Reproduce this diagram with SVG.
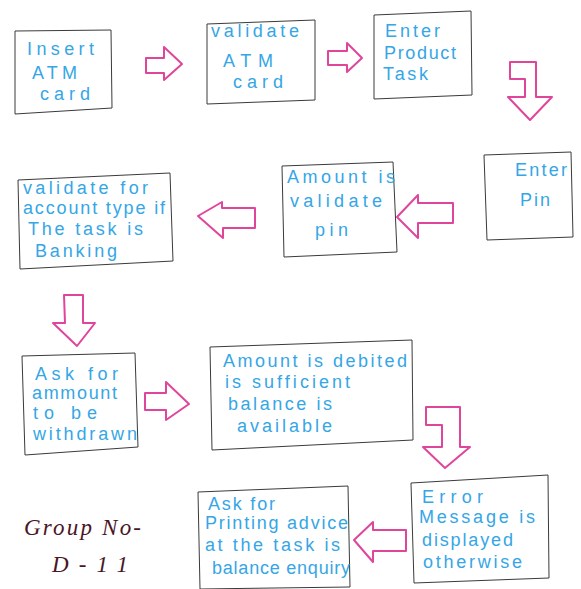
<svg xmlns="http://www.w3.org/2000/svg" width="581" height="589" viewBox="0 0 581 589">
<style>
.box{fill:none;stroke:#3a3a3a;stroke-width:1;stroke-linejoin:round}
.arr{fill:none;stroke:#e0459c;stroke-width:2;stroke-linejoin:round}
.t{font-family:"Liberation Sans","DejaVu Sans",sans-serif;font-size:18px;fill:#35a6e6}
.g{font-family:"Liberation Serif","DejaVu Serif",serif;font-style:italic;font-size:23px;fill:#4a1626}
</style>
<rect width="581" height="589" fill="#ffffff"/>
<g id="connectors">
<polygon class="arr" points="146,58 164,58 164,47 182,64 164,80 164,73 146,73"/>
<polygon class="arr" points="328,51 347,51 347,43 362,58 347,72 347,65 328,65"/>
<polygon class="arr" points="510,62 536,62 536,97 552,97 530,120 508,97 525,97 525,79 510,79"/>
<polygon class="arr" points="397,217 418,195 418,203 453,203 453,223 418,223 418,238"/>
<polygon class="arr" points="198,216 222,202 222,208 255,208 255,228 223,228 223,238"/>
<polygon class="arr" points="64,295 83,295 83,323 95,323 77,346 53,323 65,323"/>
<polygon class="arr" points="145,393 166,393 166,382 189,404 166,420 166,410 145,410"/>
<polygon class="arr" points="426,407 460,407 460,447 470,447 445,468 423,447 442,447 442,425 426,425"/>
<polygon class="arr" points="354,540 373,522 373,530 406,530 406,551 373,551 373,562"/>
</g>
<g id="n1">
<polygon class="box" points="15,31 111,30 112,108 15,114"/>
<text class="t" x="27" y="55" textLength="67" lengthAdjust="spacing" font-size="20" fill="#2d8fd8">Insert</text>
<text class="t" x="32" y="79" textLength="45" lengthAdjust="spacing">ATM</text>
<text class="t" x="40" y="100" textLength="50" lengthAdjust="spacing">card</text>
</g>
<g id="n2">
<polygon class="box" points="207,24 315,20 315,100 207,104"/>
<text class="t" x="211" y="37" textLength="88" lengthAdjust="spacing">validate</text>
<text class="t" x="223" y="67" textLength="50" lengthAdjust="spacing">ATM</text>
<text class="t" x="233" y="88" textLength="50" lengthAdjust="spacing">card</text>
</g>
<g id="n3">
<polygon class="box" points="374,15 471,11 472,95 374,99"/>
<text class="t" x="385" y="37" textLength="55" lengthAdjust="spacing">Enter</text>
<text class="t" x="384" y="59" textLength="72" lengthAdjust="spacing">Product</text>
<text class="t" x="383" y="80" textLength="45" lengthAdjust="spacing">Task</text>
</g>
<g id="n4">
<polygon class="box" points="484,155 571,152 573,237 487,240"/>
<text class="t" x="515" y="176" textLength="52" lengthAdjust="spacing">Enter</text>
<text class="t" x="520" y="206" textLength="30" lengthAdjust="spacing">Pin</text>
</g>
<g id="n5">
<polygon class="box" points="282,166 393,162 397,252 284,257"/>
<text class="t" x="287" y="183" textLength="108" lengthAdjust="spacing">Amount is</text>
<text class="t" x="290" y="207" textLength="92" lengthAdjust="spacing">validate</text>
<text class="t" x="315" y="236" textLength="33" lengthAdjust="spacing">pin</text>
</g>
<g id="n6">
<polygon class="box" points="18,180 170,173 173,261 20,269"/>
<text class="t" x="23" y="194" textLength="125" lengthAdjust="spacing" font-size="16">validate for</text>
<text class="t" x="23" y="214" textLength="142" lengthAdjust="spacing" font-size="16">account type if</text>
<text class="t" x="28" y="235" textLength="115" lengthAdjust="spacing">The task is</text>
<text class="t" x="35" y="257" textLength="82" lengthAdjust="spacing">Banking</text>
</g>
<g id="n7">
<polygon class="box" points="22,356 135,353 138,447 25,455"/>
<text class="t" x="35" y="380" textLength="83" lengthAdjust="spacing">Ask for</text>
<text class="t" x="32" y="399" textLength="85" lengthAdjust="spacing">ammount</text>
<text class="t" x="33" y="419" textLength="64" lengthAdjust="spacing">to be</text>
<text class="t" x="33" y="440" textLength="104" lengthAdjust="spacing">withdrawn</text>
</g>
<g id="n8">
<polygon class="box" points="210,347 412,340 413,440 212,450"/>
<text class="t" x="223" y="367" textLength="184" lengthAdjust="spacing">Amount is debited</text>
<text class="t" x="225" y="388" textLength="125" lengthAdjust="spacing">is sufficient</text>
<text class="t" x="228" y="410" textLength="104" lengthAdjust="spacing">balance is</text>
<text class="t" x="237" y="432" textLength="95" lengthAdjust="spacing">available</text>
</g>
<g id="n9">
<polygon class="box" points="411,483 548,475 549,578 414,583"/>
<text class="t" x="422" y="503" textLength="61" lengthAdjust="spacing">Error</text>
<text class="t" x="419" y="523" textLength="116" lengthAdjust="spacing">Message is</text>
<text class="t" x="422" y="546" textLength="91" lengthAdjust="spacing">displayed</text>
<text class="t" x="423" y="568" textLength="99" lengthAdjust="spacing">otherwise</text>
</g>
<g id="n10">
<polygon class="box" points="198,492 348,486 350,587 200,589"/>
<text class="t" x="208" y="510" textLength="67" lengthAdjust="spacing">Ask for</text>
<text class="t" x="205" y="529" textLength="143" lengthAdjust="spacing">Printing advice</text>
<text class="t" x="205" y="551" textLength="135" lengthAdjust="spacing">at the task is</text>
<text class="t" x="212" y="574" textLength="138" lengthAdjust="spacing">balance enquiry</text>
</g>
<g id="label">
<text class="g" x="24" y="535" textLength="117" lengthAdjust="spacing">Group No-</text>
<text class="g" x="52" y="572" textLength="76" lengthAdjust="spacing">D-11</text>
</g>
</svg>
